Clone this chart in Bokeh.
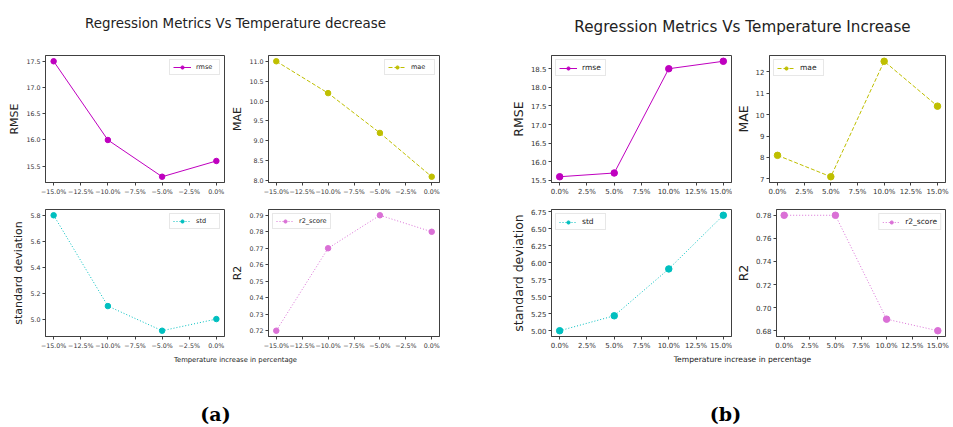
from bokeh.plotting import figure
from bokeh.models import Range1d, FixedTicker, Label
from bokeh.layouts import column, row
from bokeh.embed import file_html
from bokeh.resources import INLINE

# ---------------- data ----------------
dec_x = [-15, -10, -5, 0]
dec_rmse = [17.5, 16.0, 15.3, 15.6]
dec_mae = [11.0, 10.2, 9.2, 8.1]
dec_std = [5.8, 5.1, 4.91, 5.0]
dec_r2 = [0.72, 0.77, 0.79, 0.78]

inc_x = [0, 5, 10, 15]
inc_rmse = [15.6, 15.7, 18.5, 18.7]
inc_mae = [8.1, 7.1, 12.5, 10.4]
inc_std = [5.0, 5.22, 5.91, 6.7]
inc_r2 = [0.78, 0.78, 0.69, 0.68]

dec_xticks = [-15.0, -12.5, -10.0, -7.5, -5.0, -2.5, 0.0]
dec_xlabels = ["\u221215.0%", "\u221212.5%", "\u221210.0%", "\u22127.5%", "\u22125.0%", "\u22122.5%", "0.0%"]
inc_xticks = [0.0, 2.5, 5.0, 7.5, 10.0, 12.5, 15.0]
inc_xlabels = ["0.0%", "2.5%", "5.0%", "7.5%", "10.0%", "12.5%", "15.0%"]

dec_rmse_ticks = [15.5, 16.0, 16.5, 17.0, 17.5]
dec_rmse_labels = ["15.5", "16.0", "16.5", "17.0", "17.5"]
dec_mae_ticks = [8.0, 8.5, 9.0, 9.5, 10.0, 10.5, 11.0]
dec_mae_labels = ["8.0", "8.5", "9.0", "9.5", "10.0", "10.5", "11.0"]
dec_std_ticks = [5.0, 5.2, 5.4, 5.6, 5.8]
dec_std_labels = ["5.0", "5.2", "5.4", "5.6", "5.8"]
dec_r2_ticks = [0.72, 0.73, 0.74, 0.75, 0.76, 0.77, 0.78, 0.79]
dec_r2_labels = ["0.72", "0.73", "0.74", "0.75", "0.76", "0.77", "0.78", "0.79"]

inc_rmse_ticks = [15.5, 16.0, 16.5, 17.0, 17.5, 18.0, 18.5]
inc_rmse_labels = ["15.5", "16.0", "16.5", "17.0", "17.5", "18.0", "18.5"]
inc_mae_ticks = [7.0, 8.0, 9.0, 10.0, 11.0, 12.0]
inc_mae_labels = ["7", "8", "9", "10", "11", "12"]
inc_std_ticks = [5.0, 5.25, 5.5, 5.75, 6.0, 6.25, 6.5, 6.75]
inc_std_labels = ["5.00", "5.25", "5.50", "5.75", "6.00", "6.25", "6.50", "6.75"]
inc_r2_ticks = [0.68, 0.70, 0.72, 0.74, 0.76, 0.78]
inc_r2_labels = ["0.68", "0.70", "0.72", "0.74", "0.76", "0.78"]

titles = ["Regression Metrics Vs Temperature decrease", "Regression Metrics Vs Temperature Increase"]
xlabel_text = "Temperature increase in percentage"
captions = ["a", "b"]

C_RMSE = "#bf00bf"
C_MAE = "#bfbf00"
C_STD = "#00bfbf"
C_R2 = "#da70d6"
FONT = "DejaVu Sans"
EDGE = "#404040"


def pad(vals):
    lo, hi = min(vals), max(vals)
    s = hi - lo
    return lo - 0.05 * s, hi + 0.05 * s


def metric_fig(w, h, bl, br, bt, bb, xs, ys, color, dash, name, ylabel,
               xticks, xlabels, yticks, ylabels, loc, tfs, lfs, gfs, ms):
    x0, x1 = pad(xs)
    y0, y1 = pad(ys)
    p = figure(width=w, height=h, min_border_left=bl, min_border_right=br,
               min_border_top=bt, min_border_bottom=bb,
               x_range=Range1d(x0, x1), y_range=Range1d(y0, y1),
               toolbar_location=None, output_backend="svg")
    p.line(xs, ys, line_color=color, line_width=1, line_dash=dash, legend_label=name)
    p.scatter(xs, ys, fill_color=color, line_color=color, size=ms, legend_label=name)
    p.xgrid.grid_line_color = None
    p.ygrid.grid_line_color = None
    p.outline_line_color = EDGE
    p.outline_line_width = 1
    p.xaxis.ticker = FixedTicker(ticks=xticks)
    p.xaxis.major_label_overrides = dict(zip(xticks, xlabels))
    p.yaxis.ticker = FixedTicker(ticks=yticks)
    p.yaxis.major_label_overrides = dict(zip(yticks, ylabels))
    p.yaxis.axis_label = ylabel
    for ax in (p.xaxis[0], p.yaxis[0]):
        ax.axis_line_color = EDGE
        ax.major_tick_line_color = EDGE
        ax.minor_tick_line_color = None
        ax.major_tick_in = 0
        ax.major_tick_out = 3
        ax.major_label_standoff = 2
        ax.major_label_text_font = FONT
        ax.major_label_text_font_size = f"{tfs}px"
        ax.major_label_text_color = "#333333"
        ax.axis_label_standoff = 2
        ax.axis_label_text_font = FONT
        ax.axis_label_text_font_style = "normal"
        ax.axis_label_text_font_size = f"{lfs}px"
        ax.axis_label_text_color = "#222222"
    lg = p.legend[0]
    lg.location = loc
    lg.label_text_font = FONT
    lg.label_text_font_size = f"{gfs}px"
    lg.label_text_color = "#222222"
    lg.glyph_width = 18
    lg.glyph_height = 8
    lg.label_height = 8
    lg.label_standoff = 5
    lg.padding = 3
    lg.spacing = 0
    lg.margin = 4
    lg.border_line_color = "#d0d0d0"
    lg.background_fill_alpha = 0.85
    return p


def text_fig(w, h):
    f = figure(width=w, height=h, x_range=Range1d(0, w), y_range=Range1d(h, 0),
               min_border=0, toolbar_location=None, output_backend="svg",
               x_axis_location=None, y_axis_location=None)
    f.grid.visible = False
    f.outline_line_color = None
    return f


# header
header = text_fig(953, 46)
header.add_layout(Label(x=235, y=23, text=titles[0], text_align="center", text_baseline="middle",
                        text_font=FONT, text_font_size="13.4px", text_color="#222222"))
header.add_layout(Label(x=742, y=26, text=titles[1], text_align="center", text_baseline="middle",
                        text_font=FONT, text_font_size="15.2px", text_color="#222222"))

A = dict(tfs=6.3, lfs=11, gfs=6.5, ms=5.5)
B = dict(tfs=7, lfs=12.5, gfs=7.5, ms=6.5)

r1 = [
    metric_fig(228, 154, 45, 4, 8, 18, dec_x, dec_rmse, C_RMSE, "solid", "rmse", "RMSE",
               dec_xticks, dec_xlabels, dec_rmse_ticks, dec_rmse_labels, "top_right", **A),
    metric_fig(242, 154, 33, 31, 8, 18, dec_x, dec_mae, C_MAE, "4 2", "mae", "MAE",
               dec_xticks, dec_xlabels, dec_mae_ticks, dec_mae_labels, "top_right", **A),
    metric_fig(262, 154, 81, 1, 9, 17, inc_x, inc_rmse, C_RMSE, "solid", "rmse", "RMSE",
               inc_xticks, inc_xlabels, inc_rmse_ticks, inc_rmse_labels, "top_left", **B),
    metric_fig(221, 154, 35, 8, 9, 17, inc_x, inc_mae, C_MAE, "4 2", "mae", "MAE",
               inc_xticks, inc_xlabels, inc_mae_ticks, inc_mae_labels, "top_left", **B),
]
r2 = [
    metric_fig(228, 152, 45, 4, 6, 15, dec_x, dec_std, C_STD, "1 2", "std", "standard deviation",
               dec_xticks, dec_xlabels, dec_std_ticks, dec_std_labels, "top_right", **A),
    metric_fig(242, 152, 33, 31, 6, 15, dec_x, dec_r2, C_R2, "1 2", "r2_score", "R2",
               dec_xticks, dec_xlabels, dec_r2_ticks, dec_r2_labels, "top_left", **A),
    metric_fig(262, 152, 81, 1, 9, 15, inc_x, inc_std, C_STD, "1 2", "std", "standard deviation",
               inc_xticks, inc_xlabels, inc_std_ticks, inc_std_labels, "top_left", **B),
    metric_fig(221, 152, 35, 8, 9, 15, inc_x, inc_r2, C_R2, "1 2", "r2_score", "R2",
               inc_xticks, inc_xlabels, inc_r2_ticks, inc_r2_labels, "top_right", **B),
]

footer = text_fig(953, 75)
footer.add_layout(Label(x=235, y=7, text=xlabel_text, text_align="center", text_baseline="middle",
                        text_font=FONT, text_font_size="6.8px", text_color="#222222"))
footer.add_layout(Label(x=742, y=7, text=xlabel_text, text_align="center", text_baseline="middle",
                        text_font=FONT, text_font_size="7.6px", text_color="#222222"))
footer.add_layout(Label(x=215, y=61, text=f"({captions[0]})", text_align="center", text_baseline="middle",
                        text_font="DejaVu Serif", text_font_style="bold", text_font_size="19px",
                        text_color="#000000"))
footer.add_layout(Label(x=725, y=61, text=f"({captions[1]})", text_align="center", text_baseline="middle",
                        text_font="DejaVu Serif", text_font_style="bold", text_font_size="19px",
                        text_color="#000000"))

layout = column(header, row(*r1), row(*r2), footer)
open("out.html", "w").write(file_html(layout, INLINE))
